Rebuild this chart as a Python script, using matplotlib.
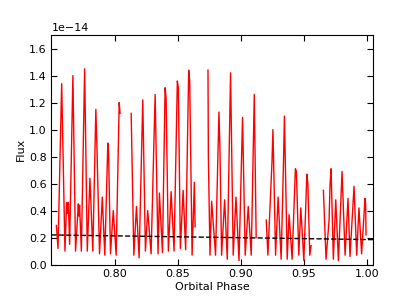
import numpy as np
import matplotlib
matplotlib.use("Agg")
import matplotlib.pyplot as plt

nan = float("nan")

phase = [
    0.7539, 0.7552, 0.7581, 0.7607, 0.7620, 0.7627, 0.7634, 0.7644, 0.7670, 0.7691,
    0.7713, 0.7718, 0.7723, 0.7737, 0.7763, 0.7784, 0.7805, 0.7828, 0.7852, 0.7860,
    0.7881, 0.7903, 0.7923, 0.7947, 0.7953, 0.7968, 0.7990, 0.8013, 0.8037, 0.8044,
    nan,
    0.8132, 0.8153, 0.8174, 0.8195, 0.8224, 0.8245, 0.8263, 0.8290, 0.8322, 0.8345,
    0.8356, 0.8380, 0.8401, 0.8409, 0.8427, 0.8449, 0.8472, 0.8498, 0.8506, 0.8522,
    0.8544, 0.8564, 0.8588, 0.8596, 0.8615, 0.8633, 0.8639,
    nan,
    0.8741, 0.8744, 0.8757, 0.8770, 0.8801, 0.8828, 0.8836, 0.8849, 0.8873, 0.8894,
    0.8920, 0.8941, 0.8963, 0.8987, 0.9015, 0.9036, 0.9060, 0.9084, 0.9108, 0.9123,
    nan,
    0.9203, 0.9216, 0.9248, 0.9256, 0.9277, 0.9297, 0.9321, 0.9339, 0.9347, 0.9369,
    0.9384, 0.9408, 0.9434, 0.9442, 0.9461, 0.9477, 0.9501, 0.9525, 0.9533, 0.9548,
    0.9559,
    nan,
    0.9656, 0.9677, 0.9701, 0.9709, 0.9717, 0.9735, 0.9754, 0.9775, 0.9804, 0.9828,
    0.9851, 0.9867, 0.9899, 0.9920, 0.9938, 0.9959, 0.9986, 0.9991, 0.9994,
]

flux = [
    0.29, 0.12, 1.34, 0.10, 0.46, 0.38, 0.46, 0.15, 1.40, 0.10,
    0.45, 0.36, 0.44, 0.10, 1.45, 0.10, 0.64, 0.10, 1.15, 0.89,
    0.08, 0.50, 0.07, 0.90, 0.82, 0.08, 0.40, 0.07, 1.20, 1.12,
    nan,
    1.12, 0.07, 0.43, 0.05, 1.22, 0.10, 0.40, 0.08, 1.26, 0.08,
    0.53, 0.09, 1.31, 1.23, 0.10, 0.54, 0.10, 1.36, 1.31, 0.12,
    0.55, 0.11, 1.44, 1.36, 0.07, 0.61, 0.28,
    nan,
    1.44, 0.80, 0.07, 0.47, 0.07, 1.13, 0.85, 0.07, 0.48, 0.04,
    1.42, 0.07, 0.50, 0.03, 1.09, 0.07, 0.43, 0.07, 1.26, 0.20,
    nan,
    0.33, 0.07, 0.75, 1.00, 0.07, 0.50, 0.04, 0.73, 1.10, 0.04,
    0.37, 0.04, 0.71, 0.69, 0.07, 0.42, 0.03, 0.67, 0.60, 0.07,
    0.14,
    nan,
    0.55, 0.04, 0.33, 0.60, 0.71, 0.04, 0.48, 0.03, 0.69, 0.07,
    0.49, 0.06, 0.58, 0.07, 0.42, 0.08, 0.49, 0.45, 0.22,
]

trend_phase = [0.75, 1.005]
trend_flux = [0.22, 0.185]

scale = 1e-14

fig = plt.figure(figsize=(4.15, 2.97), dpi=100)
ax = fig.add_axes([0.124, 0.109, 0.775, 0.773])

ax.plot(phase, np.array(flux) * scale, color="red", lw=1.0)
ax.plot(trend_phase, np.array(trend_flux) * scale, color="black", ls="--", lw=1.0)

ax.set_xlim(0.75, 1.005)
ax.set_ylim(0, 1.7e-14)
ax.set_xticks([0.80, 0.85, 0.90, 0.95, 1.00])
ax.set_yticks(np.arange(0, 1.61, 0.2) * scale)
ax.tick_params(direction="in", top=True, right=True, labelsize=8, length=4)
ax.yaxis.get_offset_text().set_fontsize(8)
ax.set_xlabel("Orbital Phase", fontsize=8, labelpad=2)
ax.set_ylabel("Flux", fontsize=8, labelpad=2)

fig.savefig("out.png", dpi=100)
